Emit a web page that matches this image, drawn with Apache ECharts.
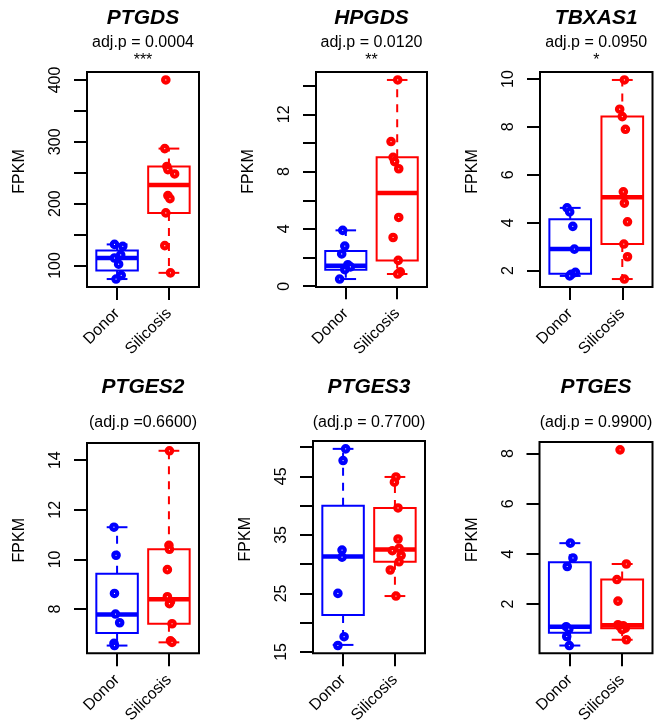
<!DOCTYPE html>
<html><head><meta charset="utf-8">
<script src="https://cdn.jsdelivr.net/npm/echarts@6/dist/echarts.min.js"></script>
<style>html,body{margin:0;padding:0;background:#fff}#c{width:656px;height:726px}</style>
</head><body><div id="c"></div>
<script>
// ---------- data ----------
const groups = ['Donor', 'Silicosis'];
const genes = ['PTGDS', 'HPGDS', 'TBXAS1', 'PTGES2', 'PTGES3', 'PTGES'];
const pTexts = ['adj.p = 0.0004', 'adj.p = 0.0120', 'adj.p = 0.0950', '(adj.p =0.6600)', '(adj.p = 0.7700)', '(adj.p = 0.9900)'];
const sigStars = ['***', '**', '*', '', '', ''];

// PTGDS
const ptgdsDonor = [134, 131, 117, 112, 102, 84, 78];
const ptgdsDonorJitter = [-0.05, 0.11, 0.07, -0.05, 0.03, 0.08, -0.02];
const ptgdsSilicosis = [400, 289, 260, 255, 248, 213, 208, 185, 132, 88];
const ptgdsSilicosisJitter = [-0.06, -0.08, -0.04, -0.02, 0.11, -0.02, 0.02, -0.06, -0.08, 0.03];
const ptgdsDonorBox = [78, 92, 112, 124, 134];
const ptgdsSilicosisBox = [88, 185, 230, 260, 289];
const ptgdsTicks = [100, 150, 200, 250, 300, 350, 400];
const ptgdsTickLabels = [100, 200, 300, 400];

// HPGDS
const hpgdsDonor = [3.9, 2.8, 2.25, 1.5, 1.35, 1.15, 0.5];
const hpgdsDonorJitter = [-0.06, -0.02, -0.08, 0.04, 0.09, -0.02, -0.12];
const hpgdsSilicosis = [14.4, 10.1, 9.0, 8.7, 8.2, 4.8, 3.4, 1.8, 1.0, 0.85];
const hpgdsSilicosisJitter = [0.01, -0.12, -0.08, -0.05, 0.03, 0.03, -0.08, 0.02, 0.06, 0.01];
const hpgdsDonorBox = [0.5, 1.15, 1.42, 2.45, 3.9];
const hpgdsSilicosisBox = [0.85, 1.8, 6.5, 9.0, 14.4];
const hpgdsTicks = [0, 2, 4, 6, 8, 10, 12, 14];
const hpgdsTickLabels = [0, 4, 8, 12];

// TBXAS1
const tbxas1Donor = [4.62, 4.45, 3.85, 2.9, 1.93, 1.85, 1.78];
const tbxas1DonorJitter = [-0.06, -0.01, 0.05, 0.08, 0.1, 0.02, -0.01];
const tbxas1Silicosis = [9.96, 8.74, 8.43, 7.9, 5.29, 4.82, 4.04, 3.11, 2.58, 1.65];
const tbxas1SilicosisJitter = [0.04, -0.05, 0.0, 0.06, 0.02, 0.04, 0.1, 0.03, 0.1, 0.04];
const tbxas1DonorBox = [1.78, 1.875, 2.9, 4.15, 4.62];
const tbxas1SilicosisBox = [1.65, 3.11, 5.06, 8.43, 9.96];
const tbxas1Ticks = [2, 4, 6, 8, 10];
const tbxas1TickLabels = [2, 4, 6, 8, 10];

// PTGES2
const ptges2Donor = [11.3, 10.17, 8.63, 7.8, 7.45, 6.62, 6.53];
const ptges2DonorJitter = [-0.06, -0.02, -0.05, -0.03, 0.05, -0.06, -0.05];
const ptges2Silicosis = [14.38, 10.57, 10.41, 9.59, 8.5, 8.3, 8.22, 7.41, 6.72, 6.66];
const ptges2SilicosisJitter = [0.01, 0.0, 0.01, -0.03, -0.03, 0.03, 0.01, 0.06, 0.03, 0.06];
const ptges2DonorBox = [6.53, 7.04, 7.78, 9.42, 11.3];
const ptges2SilicosisBox = [6.66, 7.41, 8.4, 10.41, 14.38];
const ptges2Ticks = [8, 10, 12, 14];
const ptges2TickLabels = [8, 10, 12, 14];

// PTGES3
const ptges3Donor = [49.7, 47.7, 32.4, 31.2, 25.0, 17.6, 16.1];
const ptges3DonorJitter = [0.05, 0.0, -0.02, -0.02, -0.1, 0.02, -0.1];
const ptges3Silicosis = [44.9, 44.0, 39.6, 34.3, 32.7, 32.3, 31.5, 30.4, 29.0, 24.55];
const ptges3SilicosisJitter = [0.02, -0.01, 0.06, 0.06, 0.08, -0.05, 0.12, 0.08, -0.09, 0.02];
const ptges3DonorBox = [16.2, 21.3, 31.3, 40.0, 49.7];
const ptges3SilicosisBox = [24.55, 30.4, 32.5, 39.6, 44.9];
const ptges3Ticks = [15, 20, 25, 30, 35, 40, 45, 50];
const ptges3TickLabels = [15, 25, 35, 45];

// PTGES
const ptgesDonor = [4.43, 3.84, 3.5, 1.1, 1.0, 0.71, 0.35];
const ptgesDonorJitter = [0.01, 0.06, -0.05, -0.07, -0.02, -0.06, -0.01];
const ptgesSilicosis = [8.15, 3.6, 2.98, 2.12, 1.18, 1.14, 1.1, 1.04, 0.98, 0.58];
const ptgesSilicosisJitter = [-0.04, 0.08, -0.1, -0.08, -0.08, 0.02, -0.04, 0.06, 0.0, 0.08];
const ptgesDonorBox = [0.35, 0.855, 1.1, 3.67, 4.43];
const ptgesSilicosisBox = [0.58, 1.04, 1.16, 2.98, 3.6];
const ptgesTicks = [2, 4, 6, 8];
const ptgesTickLabels = [2, 4, 6, 8];

const panels = [
  [ptgdsDonor, ptgdsDonorJitter, ptgdsSilicosis, ptgdsSilicosisJitter, ptgdsDonorBox, ptgdsSilicosisBox, ptgdsTicks, ptgdsTickLabels],
  [hpgdsDonor, hpgdsDonorJitter, hpgdsSilicosis, hpgdsSilicosisJitter, hpgdsDonorBox, hpgdsSilicosisBox, hpgdsTicks, hpgdsTickLabels],
  [tbxas1Donor, tbxas1DonorJitter, tbxas1Silicosis, tbxas1SilicosisJitter, tbxas1DonorBox, tbxas1SilicosisBox, tbxas1Ticks, tbxas1TickLabels],
  [ptges2Donor, ptges2DonorJitter, ptges2Silicosis, ptges2SilicosisJitter, ptges2DonorBox, ptges2SilicosisBox, ptges2Ticks, ptges2TickLabels],
  [ptges3Donor, ptges3DonorJitter, ptges3Silicosis, ptges3SilicosisJitter, ptges3DonorBox, ptges3SilicosisBox, ptges3Ticks, ptges3TickLabels],
  [ptgesDonor, ptgesDonorJitter, ptgesSilicosis, ptgesSilicosisJitter, ptgesDonorBox, ptgesSilicosisBox, ptgesTicks, ptgesTickLabels]
];

// ---------- layout / style ----------
const layout = [
  {left: 87, top: 72, width: 112, height: 215},
  {left: 316, top: 72, width: 111, height: 215},
  {left: 540, top: 72, width: 112.5, height: 215},
  {left: 87, top: 443, width: 112, height: 214.5},
  {left: 313, top: 441, width: 112, height: 215},
  {left: 539.5, top: 442, width: 113, height: 215}
];
const titleY = [[18.5, 43, 61], [387, 423, 0]];
const colors = ['#0000FF', '#FF0000'];
const FONT = '"Liberation Sans", Arial, Helvetica, sans-serif';

function renderBox(params, api) {
  const x = api.value(0);
  const lo = api.value(1), q1 = api.value(2), med = api.value(3), q3 = api.value(4), hi = api.value(5);
  const color = api.visual('color');
  const hw = 0.4, cw = 0.2;
  const tl = api.coord([x - hw, q3]), br = api.coord([x + hw, q1]);
  const m1 = api.coord([x - hw, med]), m2 = api.coord([x + hw, med]);
  const top = api.coord([x, hi]), q3p = api.coord([x, q3]);
  const bot = api.coord([x, lo]), q1p = api.coord([x, q1]);
  const c1 = api.coord([x - cw, hi]), c2 = api.coord([x + cw, hi]);
  const d1 = api.coord([x - cw, lo]), d2 = api.coord([x + cw, lo]);
  const ls = {stroke: color, lineWidth: 2, fill: null};
  return {type: 'group', children: [
    {type: 'line', shape: {x1: q3p[0], y1: q3p[1], x2: top[0], y2: top[1]}, style: Object.assign({lineDash: [8, 7]}, ls)},
    {type: 'line', shape: {x1: q1p[0], y1: q1p[1], x2: bot[0], y2: bot[1]}, style: Object.assign({lineDash: [8, 7]}, ls)},
    {type: 'line', shape: {x1: c1[0], y1: c1[1], x2: c2[0], y2: c2[1]}, style: ls},
    {type: 'line', shape: {x1: d1[0], y1: d1[1], x2: d2[0], y2: d2[1]}, style: ls},
    {type: 'rect', shape: {x: tl[0], y: tl[1], width: br[0] - tl[0], height: br[1] - tl[1]}, style: {stroke: color, lineWidth: 2, fill: '#fff'}},
    {type: 'line', shape: {x1: m1[0], y1: m1[1], x2: m2[0], y2: m2[1]}, style: {stroke: color, lineWidth: 4.5}}
  ]};
}

const grid = [], xAxis = [], yAxis = [], series = [], graphic = [];
panels.forEach((p, i) => {
  const [dv, dj, sv, sj, dbox, sbox, ticks, tickLabels] = p;
  const L = layout[i];
  const all = dv.concat(sv, dbox, sbox);
  const dmin = Math.min.apply(null, all), dmax = Math.max.apply(null, all);
  const ext = (dmax - dmin) * 0.04;
  grid.push({left: L.left, top: L.top, width: L.width, height: L.height, show: true, borderColor: '#000', borderWidth: 2, backgroundColor: 'transparent'});
  xAxis.push({
    type: 'value', gridIndex: i, min: 0.42, max: 2.58,
    splitLine: {show: false}, axisLine: {show: false},
    axisTick: {show: true, customValues: [1, 2], length: 13, lineStyle: {color: '#000', width: 2}},
    axisLabel: {customValues: [1, 2], formatter: v => groups[Math.round(v) - 1], rotate: 45, margin: 24,
      fontSize: 16, color: '#000', fontFamily: FONT}
  });
  yAxis.push({
    type: 'value', gridIndex: i, min: dmin - ext, max: dmax + ext,
    splitLine: {show: false}, axisLine: {show: false},
    axisTick: {show: true, customValues: ticks, length: 13, lineStyle: {color: '#000', width: 2}},
    axisLabel: {customValues: tickLabels, rotate: 90, margin: 23, fontSize: 16, color: '#000', fontFamily: FONT},
    name: 'FPKM', nameLocation: 'middle', nameGap: 59,
    nameTextStyle: {fontSize: 16, color: '#000', fontFamily: FONT, padding: [0, 0, 0, 16]}
  });
  series.push({
    type: 'custom', xAxisIndex: i, yAxisIndex: i, renderItem: renderBox, z: 2,
    encode: {x: 0, y: [1, 2, 3, 4, 5]},
    data: [
      {value: [1].concat(dbox), itemStyle: {color: colors[0]}},
      {value: [2].concat(sbox), itemStyle: {color: colors[1]}}
    ]
  });
  [[dv, dj, 1, colors[0]], [sv, sj, 2, colors[1]]].forEach(([vals, jit, gx, col]) => {
    series.push({
      type: 'scatter', xAxisIndex: i, yAxisIndex: i, z: 3,
      symbol: 'circle', symbolSize: 5.4,
      itemStyle: {color: '#fff', borderColor: col, borderWidth: 4.2, opacity: 1},
      data: vals.map((v, k) => [gx + jit[k], v])
    });
  });
  const cx = L.left + L.width / 2;
  const row = i < 3 ? 0 : 1;
  const ty = titleY[row];
  graphic.push({type: 'text', x: cx, y: ty[0], style: {text: genes[i], fill: '#000',
    font: 'italic bold 21px ' + FONT, align: 'center', verticalAlign: 'middle'}});
  graphic.push({type: 'text', x: cx, y: ty[1], style: {text: pTexts[i], fill: '#000',
    font: '16px ' + FONT, align: 'center', verticalAlign: 'middle'}});
  if (sigStars[i]) {
    graphic.push({type: 'text', x: cx, y: ty[2], style: {text: sigStars[i], fill: '#000',
      font: '16px ' + FONT, align: 'center', verticalAlign: 'middle'}});
  }
});

const chart = echarts.init(document.getElementById('c'), null, {renderer: 'canvas'});
chart.setOption({animation: false, backgroundColor: '#fff', grid, xAxis, yAxis, series, graphic});
</script>
</body></html>
